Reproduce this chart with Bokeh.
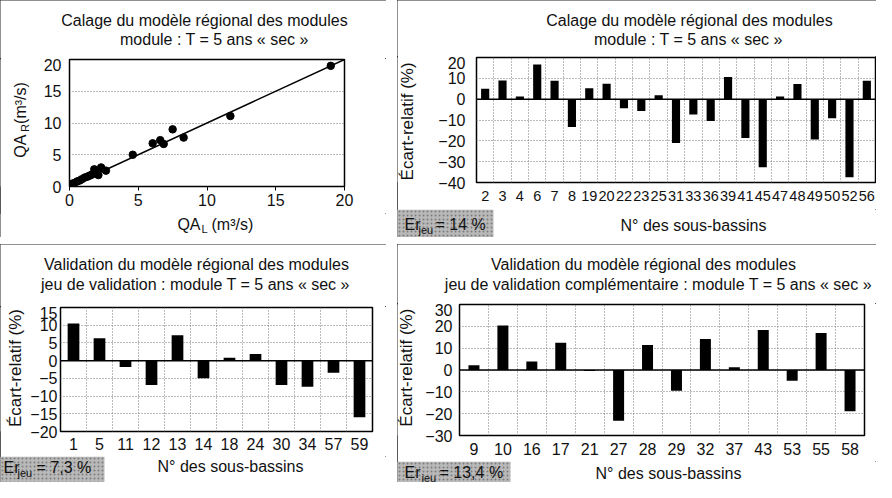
from bokeh.plotting import figure
from bokeh.models import Label, BoxAnnotation, FixedTicker, Span, Spacer, Range1d
from bokeh.layouts import row, column
from bokeh.embed import file_html
from bokeh.resources import INLINE

# ---------------- data ----------------
QA_L = [0.05, 0.2, 0.35, 0.55, 0.75, 0.9, 1.1, 1.3, 1.45, 1.6, 1.8, 1.95, 2.1, 2.3, 2.65,
        4.6, 6.05, 6.6, 6.85, 7.5, 8.3, 11.7, 19.0]
QA_R = [0.3, 0.45, 0.55, 0.8, 0.95, 1.15, 1.4, 1.55, 1.7, 1.85, 2.7, 2.0, 1.8, 3.0, 2.5,
        5.0, 6.8, 7.3, 6.7, 9.0, 7.7, 11.1, 19.0]
LINE_1TO1 = [0, 20]
SCATTER_TICKS = [0, 5, 10, 15, 20]

SB_CAL = ["2", "3", "4", "6", "7", "8", "19", "20", "22", "23", "25", "31", "33", "36",
          "39", "41", "45", "47", "48", "49", "50", "52", "56"]
ER_CAL = [5.0, 9.0, 1.3, 16.7, 8.9, -13.3, 5.3, 7.4, -4.4, -5.7, 1.9, -21.0, -7.4, -10.5,
          10.7, -18.6, -32.7, 1.3, 7.3, -19.3, -9.2, -37.5, 8.9]
YT_CAL = [20, 10, 0, -10, -20, -30, -40]

SB_VAL = ["1", "5", "11", "12", "13", "14", "18", "24", "30", "34", "57", "59"]
ER_VAL = [10.5, 6.3, -1.8, -6.9, 7.2, -5.0, 0.8, 1.9, -6.9, -7.4, -3.4, -16.0]
YT_VAL = [15, 10, 5, 0, -5, -10, -15, -20]

SB_VAL2 = ["9", "10", "16", "17", "21", "27", "28", "29", "32", "37", "43", "53", "55", "58"]
ER_VAL2 = [2.2, 20.4, 3.9, 12.5, -0.5, -23.2, 11.5, -9.5, 14.2, 1.3, 18.3, -4.9, 16.9, -18.9]
YT_VAL2 = [30, 20, 10, 0, -10, -20, -30]

TITLE_CAL = ["Calage du modèle régional des modules", "module : T = 5 ans « sec »"]
TITLE_VAL = ["Validation du modèle régional des modules",
             "jeu de validation : module T = 5 ans « sec »"]
TITLE_VAL2 = ["Validation du modèle régional des modules",
              "jeu de validation complémentaire : module T = 5 ans « sec »"]
ER_TXT = ["= 14 %", "= 7,3 %", "= 13,4 %"]
X_TITLE = "N° des sous-bassins"
Y_TITLE = "Écart-relatif (%)"

FONT = "Liberation Sans"
INK = "#111111"
GRID = "#777777"
BORDER = {"outline": "1.5px solid #222", "outline-offset": "-1.5px"}


def text_canvas(w, h):
    c = figure(width=w, height=h, x_range=Range1d(0, w), y_range=Range1d(h, 0),
               x_axis_location=None, y_axis_location=None, min_border=0,
               output_backend="svg", toolbar_location=None, tools="")
    c.outline_line_color = None
    c.grid.visible = False
    c.background_fill_color = "white"
    c.border_fill_color = "white"
    return c


class Panel:
    """One boxed panel: header / (y-label strip + main plot) / footer."""

    def __init__(self, W, H, L, T, R, B, wl, bx, xr, yr, tick_px="16px"):
        self.W, self.H, self.T, self.wl = W, H, T, wl
        fh = B - T
        self.mid_top = T - 1
        self.foot_top = self.mid_top + 1 + fh + bx
        self.header = text_canvas(W, self.mid_top)
        self.left = text_canvas(wl, self.foot_top - self.mid_top)
        self.footer = text_canvas(W, H - self.foot_top)
        p = figure(width=W - wl, height=1 + fh + bx, x_range=xr, y_range=yr,
                   min_border_left=L - wl, min_border_right=W - R,
                   min_border_top=1, min_border_bottom=bx,
                   output_backend="svg", toolbar_location=None, tools="")
        p.outline_line_color = "black"
        p.outline_line_width = 1.5
        p.background_fill_color = "white"
        p.border_fill_color = "white"
        for ax in (p.xaxis[0], p.yaxis[0]):
            ax.axis_line_color = None
            ax.major_tick_line_color = None
            ax.minor_tick_line_color = None
            ax.major_tick_out = 0
            ax.major_tick_in = 0
            ax.minor_tick_out = 0
            ax.minor_tick_in = 0
            ax.major_label_text_font = FONT
            ax.major_label_text_font_size = tick_px
            ax.major_label_text_color = INK
        self.p = p

    def put(self, cx, cy, text, size="16px", align="center", angle=0):
        if angle:
            # rotated labels are drawn about 0.6 font-size higher than their anchor
            cy = cy + 0.6 * float(size.replace("px", ""))
        if cy < self.mid_top:
            c, ox, oy = self.header, 0, 0
        elif cy >= self.foot_top:
            c, ox, oy = self.footer, 0, self.foot_top
        else:
            c, ox, oy = self.left, 0, self.mid_top
        c.add_layout(Label(x=cx - ox, y=cy - oy, text=text, text_font=FONT,
                           text_font_size=size, text_color=INK, text_align=align,
                           text_baseline="middle", angle=angle, angle_units="deg"))

    def er_box(self, right):
        self.footer.add_layout(BoxAnnotation(left=0, right=right, top=0,
                                             bottom=self.H - self.foot_top,
                                             fill_color="#b9b9b9", fill_alpha=1.0,
                                             hatch_pattern=".", hatch_color="#7c7c7c",
                                             hatch_scale=4, hatch_weight=1,
                                             line_color=None))

    def layout(self):
        return column(self.header, row(self.left, self.p), self.footer, styles=BORDER)


def minus(v):
    return ("−" + str(abs(v))) if v < 0 else str(v)


def bar_panel(W, H, L, T, R, B, wl, bx, cats, vals, yticks, bw, xstand, ystand, xtick_px):
    n = len(cats)
    pos = list(range(1, n + 1))
    pn = Panel(W, H, L, T, R, B, wl, bx, Range1d(0.5, n + 0.5),
               Range1d(min(yticks), max(yticks)))
    p = pn.p
    p.xaxis.major_label_text_font_size = xtick_px
    p.xaxis.ticker = FixedTicker(ticks=pos)
    p.xaxis.major_label_overrides = {i: c for i, c in zip(pos, cats)}
    p.xaxis.major_label_standoff = xstand
    p.yaxis.ticker = FixedTicker(ticks=yticks)
    p.yaxis.major_label_overrides = {v: minus(v) for v in yticks}
    p.yaxis.major_label_standoff = ystand
    p.xgrid.ticker = FixedTicker(ticks=[i + 0.5 for i in range(0, n + 1)])
    p.ygrid.ticker = FixedTicker(ticks=yticks)
    for g in (p.xgrid[0], p.ygrid[0]):
        g.grid_line_color = GRID
        g.grid_line_dash = "1 2"
        g.grid_line_width = 1
    p.vbar(x=pos, top=vals, bottom=0, width=bw, fill_color="black", line_color=None)
    p.add_layout(Span(location=0, dimension="width", line_color="black", line_width=1.5))
    return pn


# ---------------- panel 1 : scatter ----------------
P1 = Panel(386, 237, 69, 59, 344, 186, 30, 27, Range1d(0, 20), Range1d(0, 20))
p1 = P1.p
p1.xaxis.ticker = FixedTicker(ticks=SCATTER_TICKS)
p1.yaxis.ticker = FixedTicker(ticks=SCATTER_TICKS)
p1.xaxis.major_label_standoff = 3
p1.yaxis.major_label_standoff = 8
p1.xaxis.major_tick_line_color = "black"
p1.xaxis.major_tick_out = 4
p1.xgrid.grid_line_color = None
p1.ygrid.ticker = FixedTicker(ticks=[5, 10, 15])
p1.ygrid.grid_line_color = GRID
p1.ygrid.grid_line_dash = "1 2"
p1.line(x=LINE_1TO1, y=LINE_1TO1, line_color="black", line_width=1.5)
p1.scatter(x=QA_L, y=QA_R, size=7.5, fill_color="black", line_color="black")
P1.put(204, 20, TITLE_CAL[0])
P1.put(214, 39, TITLE_CAL[1])
P1.put(200, 224, "QA", "16px", "right")
P1.put(201, 228, "L", "11px", "left")
P1.put(211, 224, "(m³/s)", "16px", "left")
P1.put(20, 140, "QA", "16px", "right", 90)
P1.put(24, 140, "R", "11px", "left", 90)
P1.put(20, 127, "(m³/s)", "16px", "left", 90)

# ---------------- panel 2 : calage bars ----------------
P2 = bar_panel(479, 237, 79, 57, 478, 182, 22, 27, SB_CAL, ER_CAL, YT_CAL, 0.47, 8, 11, "14.5px")
P2.put(292, 20, TITLE_CAL[0])
P2.put(291, 39, TITLE_CAL[1])
P2.put(10, 124, Y_TITLE, "17px", "center", 90)
P2.er_box(96)
P2.put(296, 225, X_TITLE)
P2.put(7, 224, "Er", "16px", "left")
P2.put(21, 229, "jeu", "11px", "left")
P2.put(38, 224, ER_TXT[0], "16px", "left")

# ---------------- panel 3 : validation bars ----------------
P3 = bar_panel(386, 238, 59, 63, 372, 187, 27, 25, SB_VAL, ER_VAL, YT_VAL, 0.45, 6, 3, "16px")
P3.put(196, 20, TITLE_VAL[0])
P3.put(195, 40, TITLE_VAL[1])
P3.put(15, 125, Y_TITLE, "17px", "center", 90)
P3.er_box(104)
P3.put(230, 222, X_TITLE)
P3.put(3, 223, "Er", "16px", "left")
P3.put(17, 228, "jeu", "11px", "left")
P3.put(36, 223, ER_TXT[1], "16px", "left")

# ---------------- panel 4 : complementary validation bars ----------------
P4 = bar_panel(479, 238, 62, 60, 467, 191, 20, 26, SB_VAL2, ER_VAL2, YT_VAL2, 0.38, 7, 7, "16px")
P4.put(246, 20, TITLE_VAL2[0])
P4.put(261, 40, TITLE_VAL2[1])
P4.put(9, 125, Y_TITLE, "17px", "center", 90)
P4.er_box(113)
P4.put(271, 229, X_TITLE)
P4.put(7, 228, "Er", "16px", "left")
P4.put(24, 233, "jeu", "11px", "left")
P4.put(42, 228, ER_TXT[2], "16px", "left")

layout = column(
    row(P1.layout(), Spacer(width=11), P2.layout()),
    Spacer(height=7),
    row(P3.layout(), Spacer(width=11), P4.layout()),
)

open("out.html", "w").write(file_html(layout, INLINE))
